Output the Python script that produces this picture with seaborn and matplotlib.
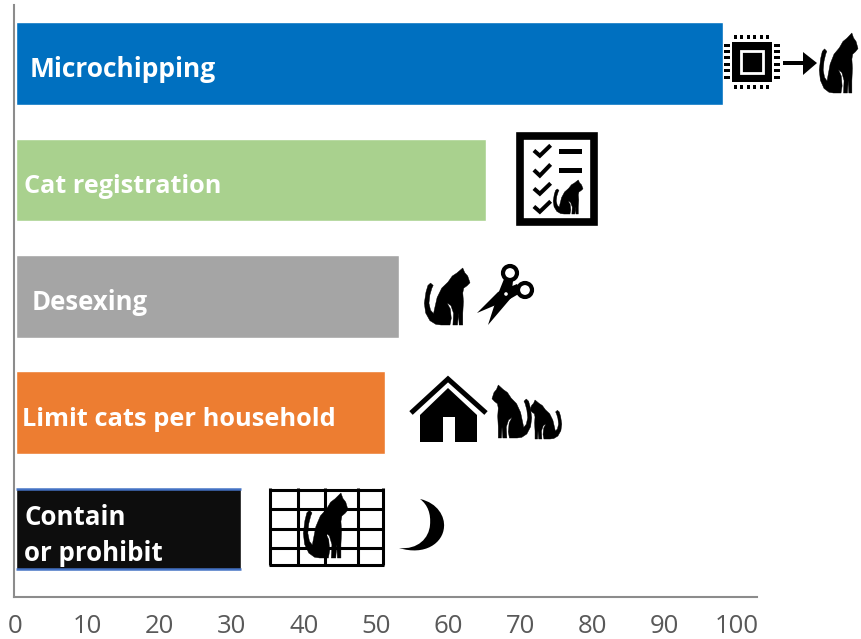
import numpy as np
import pandas as pd
import matplotlib
matplotlib.use("Agg")
import matplotlib.pyplot as plt
from matplotlib.path import Path
from matplotlib.patches import PathPatch, Polygon, Rectangle, Circle
import seaborn as sns

measures = ["Microchipping", "Cat registration", "Desexing",
            "Limit cats per household", "Contain\nor prohibit"]
support = [98.1, 65.3, 53.2, 51.2, 31.3]
bar_colors = ["#0070C0", "#A9D18E", "#A5A5A5", "#ED7D31", "#0D0D0D"]
label_starts = [1.9, 1.2, 2.2, 0.9, 1.2]
label_sizes = [19, 18.2, 18.5, 18.3, 18.6]
x_ticks = list(range(0, 101, 10))

sns.set_theme(style="white")
plt.rcParams["font.family"] = ["Open Sans", "DejaVu Sans"]

W, H = 861, 639
fig = plt.figure(figsize=(W / 100, H / 100), dpi=100, facecolor="white")
ax = fig.add_axes([14 / W, 1 - 597 / H, 743 / W, 592 / H])

df = pd.DataFrame({"measure": measures, "support": support})
sns.barplot(data=df, x="support", y="measure", hue="measure", palette=bar_colors,
            width=0.71, saturation=1, legend=False, dodge=False, ax=ax)

ax.set_xlim(-0.22, 102.83)
ax.set_ylim(4.583, -0.503)
ax.set_xticks(x_ticks)
ax.set_yticks([])
ax.set_xlabel("")
ax.set_ylabel("")
ax.tick_params(axis="x", length=0, pad=12.5, labelsize=18.5, labelcolor="#595959")
for side in ["top", "right"]:
    ax.spines[side].set_visible(False)
for side in ["left", "bottom"]:
    ax.spines[side].set_color("#8C8C8C")
    ax.spines[side].set_linewidth(1.5)

# The last bar carries a thin blue rule along its long edges.
last = len(measures) - 1
ax.hlines([last - 0.345, last + 0.345], 0, support[last], color="#4472C4", lw=1.8, zorder=4)

for i, (name, start, size) in enumerate(zip(measures, label_starts, label_sizes)):
    ax.text(start, i + 0.055, name, color="white", fontsize=size,
            fontweight="bold", va="center", ha="left", linespacing=1.46, zorder=5)

# Overlay in pixel units for the pictograms beside the bars.
ov = fig.add_axes([0, 0, 1, 1], facecolor="none")
ov.set_xlim(0, W)
ov.set_ylim(H, 0)
ov.axis("off")
INK = "black"

# Seated cat facing right, in a 140 x 170 box with y running down.
CAT = [(118, 0), (124, 14), (133, 24), (140, 44), (131, 53), (121, 60), (118, 74), (120, 100),
       (118, 135), (118, 170), (107, 170), (105, 135), (102, 170), (88, 170), (90, 135),
       (82, 112), (70, 104), (80, 122), (83, 150), (79, 170), (52, 170), (36, 168), (18, 157),
       (5, 134), (1, 105), (6, 72), (12, 52), (20, 45), (28, 52), (24, 60), (18, 80), (15, 105),
       (20, 126), (29, 136), (33, 118), (40, 88), (54, 60), (73, 42), (86, 24), (100, 15)]


def cat(x0, y0, x1, y1, mirror=False, zorder=6):
    pts = np.array(CAT, float)
    if mirror:
        pts[:, 0] = 140 - pts[:, 0]
    pts[:, 0] = x0 + pts[:, 0] / 140 * (x1 - x0)
    pts[:, 1] = y0 + pts[:, 1] / 170 * (y1 - y0)
    ov.add_patch(Polygon(pts, closed=True, fc=INK, ec=INK, lw=0.3, zorder=zorder))


def line(xs, ys, lw=2.0, color=INK, zorder=5, cap="butt"):
    ov.plot(xs, ys, color=color, lw=lw, solid_capstyle=cap, solid_joinstyle="miter", zorder=zorder)


def check(x0, y0, x1, y1):
    w, h = x1 - x0, y1 - y0
    line([x0 + 0.05 * w, x0 + 0.38 * w, x0 + 0.98 * w],
         [y0 + 0.5 * h, y0 + 0.9 * h, y0 + 0.1 * h], lw=2.9)


# Chip, arrow and cat
ov.add_patch(Rectangle((732, 42), 40, 40, fc=INK, ec="none"))
ov.add_patch(Rectangle((741, 51), 22, 22, fc=INK, ec="white", lw=2))
for k in range(6):
    p = 735.5 + k * 6.4
    ov.add_patch(Rectangle((p - 1.5, 34.5), 3, 4.5, fc=INK, ec="none"))
    ov.add_patch(Rectangle((p - 1.5, 84.5), 3, 4.5, fc=INK, ec="none"))
    q = 45 + k * 6.4
    ov.add_patch(Rectangle((723.5, q - 1.5), 6, 3, fc=INK, ec="none"))
    ov.add_patch(Rectangle((774, q - 1.5), 6, 3, fc=INK, ec="none"))
ov.add_patch(Rectangle((783, 61), 22, 4, fc=INK, ec="none"))
ov.add_patch(Polygon([(803, 52), (817, 63), (803, 75)], fc=INK, ec="none"))
cat(819, 33, 858, 93)

# Checklist with cat
ov.add_patch(Rectangle((520, 135.5), 73.5, 86.5, fc="white", ec=INK, lw=5.5, joinstyle="miter"))
for top, bottom in [(144, 157), (163, 177), (182, 195), (200, 213)]:
    check(533, top, 551, bottom)
for top in [149, 168]:
    ov.add_patch(Rectangle((559, top), 23, 5, fc=INK, ec="none"))
cat(553, 180, 583, 214)

# Cat and scissors
cat(424, 268, 470, 325)
for cx, cy in [(510, 273), (525, 290)]:
    ov.add_patch(Circle((cx, cy), 7, fc="white", ec=INK, lw=3, zorder=6))
ov.add_patch(Polygon([(517, 284), (522, 292), (510, 299), (477, 313), (498, 292)], fc=INK, ec="none", zorder=5))
ov.add_patch(Polygon([(504, 279), (513, 281), (511, 298), (488, 325), (498, 294)], fc=INK, ec="none", zorder=5))
ov.add_patch(Circle((506, 294), 1.8, fc="white", ec="none", zorder=7))

# House and two cats
line([411, 448, 486], [413, 379, 413], lw=3.6)
ov.add_patch(Polygon([(448, 388), (477, 415), (477, 442), (455, 442), (455, 417), (443, 417),
                      (443, 442), (420, 442), (420, 415)], fc=INK, ec="none"))
cat(492, 385, 532, 438, mirror=True)
cat(530, 400, 562, 439, mirror=True)

# Cat behind a grid, and a crescent moon
cat(303, 493, 348, 558)
for gy in [489.5, 509, 529, 548, 564.5]:
    line([269, 384], [gy, gy], lw=2.2, zorder=7 if gy in (509, 529) else 5)
for gx in [270, 298, 325, 358, 383]:
    line([gx, gx], [488, 565], lw=2.2, zorder=5)
moon = Path([(420, 499), (438, 503), (445, 517), (444, 527), (443, 543), (425, 556), (399, 548),
             (418, 550), (429, 538), (430, 525), (431, 514), (428, 505), (420, 499)],
            [Path.MOVETO] + [Path.CURVE4] * 12)
ov.add_patch(PathPatch(moon, fc=INK, ec="none"))

fig.savefig("out.png", dpi=100)
